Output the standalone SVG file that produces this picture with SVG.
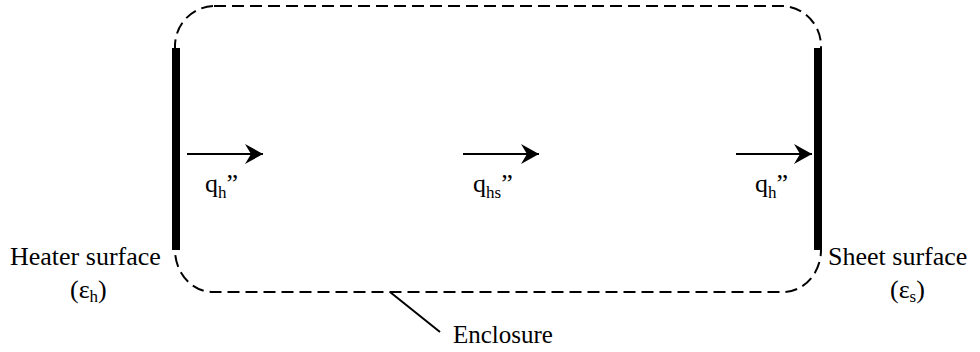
<svg xmlns="http://www.w3.org/2000/svg" width="980" height="352" viewBox="0 0 980 352">
<style>
.t{font-family:'Liberation Serif','DejaVu Serif',serif;font-size:26px;fill:#000}
.sub{font-size:17px}
.bar{fill:#000}
.dash{fill:none;stroke:#000;stroke-width:2;stroke-dasharray:12 6}
.ln{stroke:#000;stroke-width:2;fill:none}
</style>
<defs>
<marker id="ah" markerWidth="20" markerHeight="22" refX="18" refY="11" orient="auto" markerUnits="userSpaceOnUse">
<path d="M0,1 L18,11 L0,21 L6,11 z" fill="#000"/>
</marker>
</defs>
<g id="enclosure">
<path class="dash" d="M214,6 H781 A40 40 0 0 1 821 46 V250 A38 42 0 0 1 783 292 H213 A38 42 0 0 1 175 250 V46 A40 40 0 0 1 214 6 Z"/>
<text class="t" font-family="Liberation Serif, serif" x="453" y="343" style="font-size:25px">Enclosure</text>
</g>
<g id="heater">
<rect class="bar" x="172" y="48" width="8" height="202"/>
<text class="t" font-family="Liberation Serif, serif" x="10" y="265">Heater surface</text>
<text class="t" font-family="Liberation Serif, serif" x="70" y="298">(ε<tspan class="sub" dy="4">h</tspan><tspan dy="-4">)</tspan></text>
</g>
<g id="sheet">
<rect class="bar" x="814" y="48" width="8" height="202"/>
<text class="t" font-family="Liberation Serif, serif" x="828" y="265">Sheet surface</text>
<text class="t" font-family="Liberation Serif, serif" x="890" y="298">(ε<tspan class="sub" dy="4">s</tspan><tspan dy="-4">)</tspan></text>
</g>
<g id="labels">
<text class="t" font-family="Liberation Serif, serif" x="205" y="192">q<tspan class="sub" dy="6">h</tspan><tspan dy="-6">”</tspan></text>
<text class="t" font-family="Liberation Serif, serif" x="473" y="192">q<tspan class="sub" dy="6">hs</tspan><tspan dy="-6">”</tspan></text>
<text class="t" font-family="Liberation Serif, serif" x="755" y="192">q<tspan class="sub" dy="6">h</tspan><tspan dy="-6">”</tspan></text>
</g>
<g id="connectors">
<line class="ln" x1="187" y1="154" x2="263" y2="154" marker-end="url(#ah)"/>
<line class="ln" x1="463" y1="154" x2="539" y2="154" marker-end="url(#ah)"/>
<line class="ln" x1="736" y1="154" x2="812" y2="154" marker-end="url(#ah)"/>
<line class="ln" x1="390" y1="292" x2="440" y2="332"/>
</g>
</svg>
